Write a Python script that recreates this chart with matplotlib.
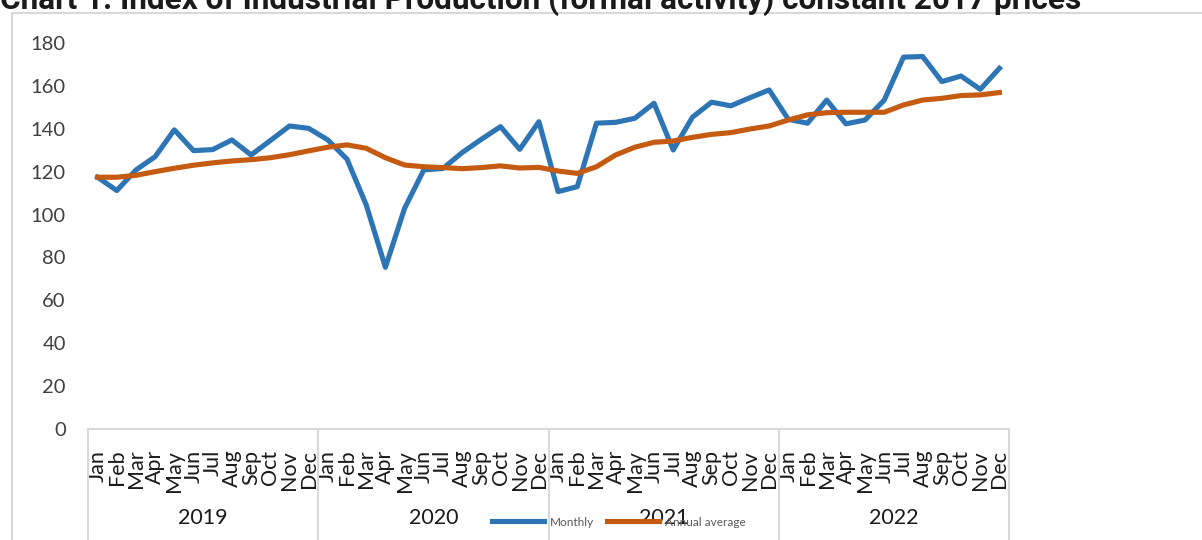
import matplotlib
matplotlib.use("Agg")
import matplotlib.pyplot as plt
from matplotlib.patches import Rectangle
import numpy as np

plt.rcParams['font.family'] = ['Lato', 'DejaVu Sans']

years = ['2019', '2020', '2021', '2022']
months = ['Jan', 'Feb', 'Mar', 'Apr', 'May', 'Jun',
          'Jul', 'Aug', 'Sep', 'Oct', 'Nov', 'Dec']

monthly = [117.4, 111.2, 120.8, 127.0, 139.5, 129.8, 130.3, 134.8, 127.8, 134.5, 141.3, 140.2,
           134.8, 125.8, 104.5, 75.4, 102.9, 120.8, 121.5, 128.9, 135.1, 141.0, 130.4, 143.3,
           110.7, 113.0, 142.6, 143.0, 144.9, 151.9, 130.1, 145.4, 152.4, 150.7, 154.5, 158.1,
           144.4, 142.6, 153.4, 142.3, 144.1, 153.4, 173.4, 173.7, 162.0, 164.6, 158.4, 168.2]

annual_avg = [117.4, 117.4, 118.3, 120.0, 121.6, 123.0, 124.1, 125.0, 125.6, 126.5, 127.9, 129.7,
              131.4, 132.5, 130.9, 126.5, 123.1, 122.3, 121.9, 121.4, 121.9, 122.7, 121.7, 122.0,
              120.3, 119.2, 122.3, 127.8, 131.4, 133.7, 134.3, 136.0, 137.4, 138.2, 139.9, 141.3,
              144.1, 146.5, 147.5, 147.7, 147.7, 147.7, 151.1, 153.4, 154.2, 155.5, 155.8, 156.9]

blue = '#2E75B6'
orange = '#C55A11'
grey = '#D9D9D9'

fig = plt.figure(figsize=(12.02, 5.40), dpi=100)
ax = fig.add_axes([88 / 1202, 1 - 429 / 540, 921 / 1202, 386 / 540])

# chart frame
fig.patches.append(Rectangle((12 / 1202, -0.1), 1.2, 1 - 13 / 540 + 0.1,
                             transform=fig.transFigure, fill=False,
                             edgecolor=grey, linewidth=1.5, zorder=0))

x = np.arange(len(monthly))
l1, = ax.plot(x, monthly, color=blue, linewidth=3.7, label='Monthly', zorder=3)
l2, = ax.plot(x, annual_avg, color=orange, linewidth=3.7, label='Annual average',
              zorder=4)

ax.set_xlim(-0.5, len(monthly) - 0.5)
ax.set_ylim(0, 180)
ax.set_yticks(range(0, 181, 20))
ax.tick_params(axis='y', length=0, pad=16, labelsize=14.5, labelcolor='#404040')

ax.set_xticks(x)
ax.set_xticklabels(months * len(years), rotation=90, fontsize=15.5)
ax.tick_params(axis='x', length=0, pad=15, labelcolor='#1a1a1a')

for s in ['top', 'right', 'left']:
    ax.spines[s].set_visible(False)
ax.spines['bottom'].set_color(grey)
ax.spines['bottom'].set_linewidth(1.5)

# year group separators and labels
trans = ax.get_xaxis_transform()
for i in range(len(years) + 1):
    b = i * 12 - 0.5
    ax.plot([b, b], [0, -0.35], color=grey, linewidth=1.5,
            transform=trans, clip_on=False)
for i, yr in enumerate(years):
    ax.text(i * 12 + 5.5, -(518.5 - 429) / 386, yr, transform=trans,
            ha='center', va='center', fontsize=15.5, color='#1a1a1a')

fig.legend(handles=[l1, l2], loc='center', bbox_to_anchor=(619 / 1202, 1 - 522 / 540),
           ncol=2, frameon=False, fontsize=8.5, handlelength=4.4,
           handletextpad=0.5, columnspacing=1.1, labelcolor='#595959')

fig.text(0.0, 1 - 9 / 540,
         'Chart 1. Index of Industrial Production (formal activity) constant 2017 prices',
         ha='left', va='baseline', fontsize=22.7, fontweight='bold',
         family=['Roboto', 'DejaVu Sans'], color='#1a1a1a')

fig.savefig('out.png', dpi=100)
